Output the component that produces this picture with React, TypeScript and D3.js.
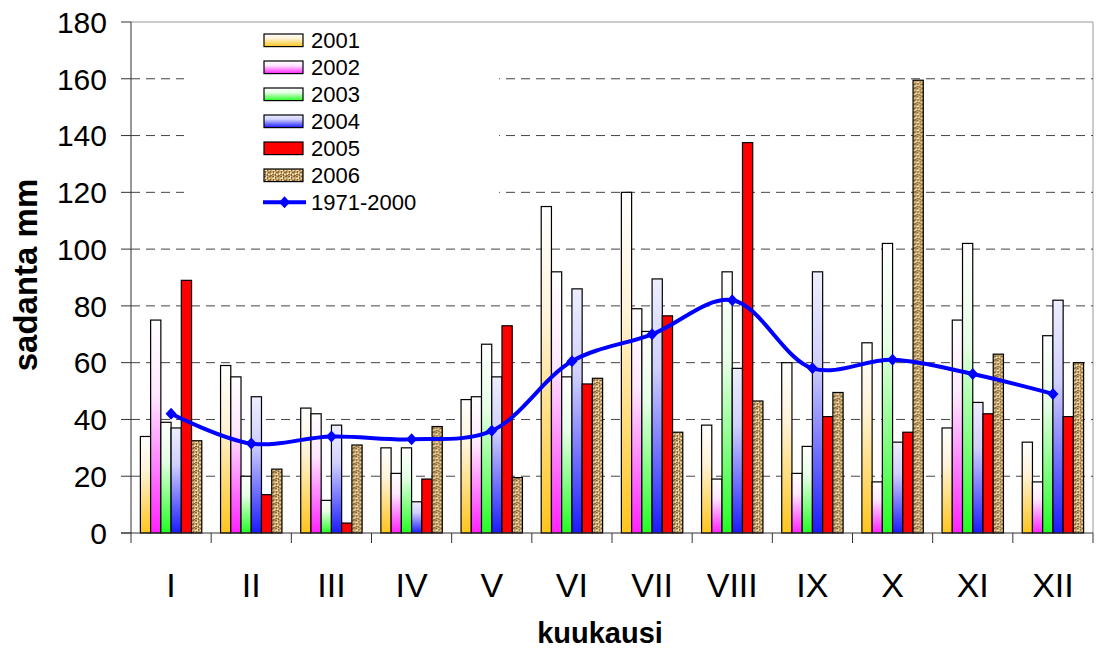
import React from 'react';
import * as d3 from 'd3';

const months = ['I', 'II', 'III', 'IV', 'V', 'VI', 'VII', 'VIII', 'IX', 'X', 'XI', 'XII'];
const years = ['2001', '2002', '2003', '2004', '2005', '2006'];
const v2001 = [34, 59, 44, 30, 47, 115, 120, 38, 60, 67, 37, 32];
const v2002 = [75, 55, 42, 21, 48, 92, 79, 19, 21, 18, 75, 18];
const v2003 = [39, 20, 11.5, 30, 66.5, 55, 71, 92, 30.5, 102, 102, 69.5];
const v2004 = [37, 48, 38, 11, 55, 86, 89.5, 58, 92, 32, 46, 82];
const v2005 = [89, 13.5, 3.5, 19, 73, 52.5, 76.5, 137.5, 41, 35.5, 42, 41];
const v2006 = [32.5, 22.5, 31, 37.5, 19.5, 54.5, 35.5, 46.5, 49.5, 159.5, 63, 60];
const normal1971_2000 = [42, 31.5, 34, 33, 36, 60.5, 70, 82, 58, 61, 56, 49];
const yTicks = [0, 20, 40, 60, 80, 100, 120, 140, 160, 180];
const seriesValues = [v2001, v2002, v2003, v2004, v2005, v2006];
const lineLabel = '1971-2000';

const W = 1101;
const H = 648;
const PL = 131, PR = 1093, PT = 22, PB = 533;
const FONT = '"Liberation Sans", Arial, sans-serif';

const fills = ['url(#g2001)', 'url(#g2002)', 'url(#g2003)', 'url(#g2004)', '#FF0000', 'url(#tex2006)'];

const texDark = [
  [0, 0, 2, 1], [3, 1, 1, 2], [5, 0, 2, 1], [1, 3, 1, 2], [4, 4, 2, 1], [6, 3, 1, 2],
  [0, 6, 2, 1], [3, 6, 1, 2], [6, 7, 2, 1],
];
const texLight = [
  [2, 0, 1, 2], [0, 2, 3, 1], [5, 2, 1, 1], [2, 4, 1, 2], [4, 6, 2, 1], [7, 5, 1, 2], [0, 5, 1, 1],
];

export default function App() {
  const x = d3.scaleBand<string>().domain(months).range([PL, PR]).padding(0);
  const cw = x.bandwidth();
  const groupW = 61.4;
  const inner = d3.scaleBand<string>().domain(years).range([(cw - groupW) / 2, (cw + groupW) / 2]).padding(0);
  const bw = inner.bandwidth();
  const y = d3.scaleLinear().domain([0, 180]).range([PB, PT]);

  const line = d3
    .line<number>()
    .x((_, i) => (x(months[i]) as number) + cw / 2)
    .y((d) => y(d))
    .curve(d3.curveCatmullRom.alpha(0.5));

  const diamond = 'M0,-6L5.5,0L0,6L-5.5,0Z';

  const legendX = 264;
  const legendY0 = 40.3;
  const legendStep = 27;

  return (
    <svg width={W} height={H} style={{ position: 'absolute', left: 0, top: 0, background: '#fff' }} fontFamily={FONT}>
      <defs>
        <linearGradient id="g2001" x1="0" y1="0" x2="0" y2="1">
          <stop offset="0" stopColor="#FFFFFF" />
          <stop offset="0.35" stopColor="#FFF3D8" />
          <stop offset="1" stopColor="#FFC41C" />
        </linearGradient>
        <linearGradient id="g2002" x1="0" y1="0" x2="0" y2="1">
          <stop offset="0" stopColor="#FFFFFF" />
          <stop offset="0.35" stopColor="#FFE8FF" />
          <stop offset="1" stopColor="#FF22FF" />
        </linearGradient>
        <linearGradient id="g2003" x1="0" y1="0" x2="0" y2="1">
          <stop offset="0" stopColor="#FFFFFF" />
          <stop offset="0.35" stopColor="#E6FFE6" />
          <stop offset="1" stopColor="#22FF22" />
        </linearGradient>
        <linearGradient id="g2004" x1="0" y1="0" x2="0" y2="1">
          <stop offset="0" stopColor="#EEEEFF" />
          <stop offset="0.35" stopColor="#D0D0FF" />
          <stop offset="1" stopColor="#1A1AFF" />
        </linearGradient>
        <pattern id="tex2006" patternUnits="userSpaceOnUse" width="8" height="8">
          <rect x="0" y="0" width="8" height="8" fill="#C6A46A" />
          {texDark.map((r, i) => (
            <rect key={'d' + i} x={r[0]} y={r[1]} width={r[2]} height={r[3]} fill="#86663A" />
          ))}
          {texLight.map((r, i) => (
            <rect key={'l' + i} x={r[0]} y={r[1]} width={r[2]} height={r[3]} fill="#EEDFB0" />
          ))}
        </pattern>
      </defs>

      {/* plot border top/right */}
      <line x1={PL} x2={PR} y1={PT} y2={PT} stroke="#999" strokeWidth={1} />
      <line x1={PR} x2={PR} y1={PT} y2={PB} stroke="#999" strokeWidth={1} />

      {/* gridlines */}
      {yTicks.filter((t) => t > 0 && t < 180).map((t) => (
        <line key={'g' + t} x1={PL} x2={PR} y1={y(t)} y2={y(t)} stroke="#444" strokeWidth={1} strokeDasharray="9,6" />
      ))}

      {/* legend background */}
      <rect x={184} y={26} width={315} height={210} fill="#fff" />

      {/* bars */}
      {months.map((m, mi) => (
        <g key={m} transform={`translate(${x(m)},0)`}>
          {years.map((yr, si) => {
            const v = seriesValues[si][mi];
            return (
              <rect
                key={yr}
                x={inner(yr)}
                y={y(v)}
                width={bw}
                height={PB - y(v)}
                fill={fills[si]}
                stroke="#000"
                strokeWidth={1.2}
              />
            );
          })}
        </g>
      ))}

      {/* line */}
      <path d={line(normal1971_2000) || ''} fill="none" stroke="#0000FF" strokeWidth={4} />
      {normal1971_2000.map((v, i) => (
        <path key={'m' + i} d={diamond} transform={`translate(${(x(months[i]) as number) + cw / 2},${y(v)})`} fill="#0000FF" />
      ))}

      {/* axes */}
      <line x1={PL} x2={PL} y1={PT} y2={PB} stroke="#333" strokeWidth={1} />
      <line x1={PL - 10} x2={PR} y1={PB} y2={PB} stroke="#333" strokeWidth={1} />
      {yTicks.map((t) => (
        <g key={'yt' + t}>
          <line x1={PL - 10} x2={PL} y1={y(t)} y2={y(t)} stroke="#333" strokeWidth={1} />
          <text x={107} y={y(t)} dy="0.36em" textAnchor="end" fontSize={30} fill="#000">
            {t}
          </text>
        </g>
      ))}
      {months.concat(['end']).map((m, i) => {
        const xx = PL + i * cw;
        return <line key={'xt' + i} x1={xx} x2={xx} y1={PB} y2={PB + 10} stroke="#333" strokeWidth={1} />;
      })}
      {months.map((m) => (
        <text key={'xl' + m} x={(x(m) as number) + cw / 2} y={597} textAnchor="middle" fontSize={34} fill="#000">
          {m}
        </text>
      ))}

      {/* axis titles */}
      <text x={600} y={643} textAnchor="middle" fontSize={29} fontWeight="bold" fill="#000">
        kuukausi
      </text>
      <text transform="translate(37,275) rotate(-90)" textAnchor="middle" fontSize={33} fontWeight="bold" fill="#000">
        sadanta mm
      </text>

      {/* legend */}
      {years.map((yr, i) => {
        const cy = legendY0 + i * legendStep;
        return (
          <g key={'lg' + yr}>
            <rect x={legendX} y={cy - 6.3} width={39} height={12.6} fill={fills[i]} stroke="#000" strokeWidth={1.2} />
            <text x={311} y={cy} dy="0.36em" fontSize={22} fill="#000">
              {yr}
            </text>
          </g>
        );
      })}
      <g>
        <line x1={263} x2={306} y1={legendY0 + 6 * legendStep} y2={legendY0 + 6 * legendStep} stroke="#0000FF" strokeWidth={4} />
        <path d={diamond} transform={`translate(284.5,${legendY0 + 6 * legendStep})`} fill="#0000FF" />
        <text x={311} y={legendY0 + 6 * legendStep} dy="0.36em" fontSize={22} fill="#000">
          {lineLabel}
        </text>
      </g>
    </svg>
  );
}
